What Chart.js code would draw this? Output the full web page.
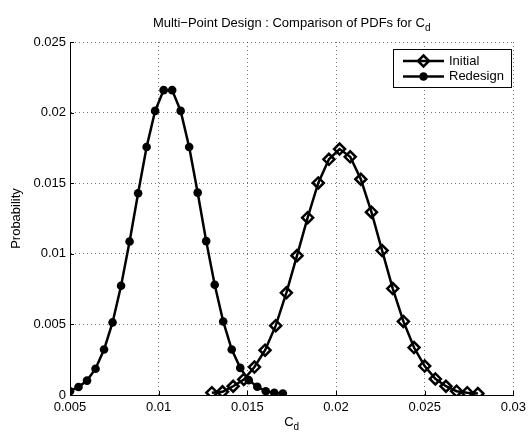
<!DOCTYPE html>
<html><head><meta charset="utf-8">
<script src="https://cdn.jsdelivr.net/npm/chart.js@4/dist/chart.umd.min.js"></script>
<style>html,body{margin:0;padding:0;background:#fff}#wrap{width:531px;height:435px;position:relative}</style>
</head><body><div id="wrap"><canvas id="c" width="531" height="435"></canvas></div>
<script>
const titleText = "Multi\u2212Point Design : Comparison of PDFs for C";
const titleSub = "d";
const xLabelMain = "C";
const xLabelSub = "d";
const yLabel = "Probability";
const seriesNames = ["Initial", "Redesign"];
const xTicks = [0.005, 0.01, 0.015, 0.02, 0.025, 0.03];
const xTickLabels = ["0.005", "0.01", "0.015", "0.02", "0.025", "0.03"];
const yTicks = [0, 0.005, 0.01, 0.015, 0.02, 0.025];
const yTickLabels = ["0", "0.005", "0.01", "0.015", "0.02", "0.025"];

const initialX = [0.013, 0.0136, 0.0142, 0.0148, 0.0154, 0.016, 0.0166, 0.0172, 0.0178, 0.0184,
  0.019, 0.0196, 0.0202, 0.0208, 0.0214, 0.022, 0.0226, 0.0232, 0.0238, 0.0244,
  0.025, 0.0256, 0.0262, 0.0268, 0.0274, 0.028];
const initialY = [0.00016, 0.00023, 0.00062, 0.0011, 0.00198, 0.00317, 0.00491, 0.00724, 0.00987, 0.01256,
  0.01502, 0.01669, 0.01742, 0.01687, 0.01528, 0.01295, 0.01023, 0.00754, 0.00521, 0.00336,
  0.00205, 0.00114, 0.00062, 0.00027, 0.00016, 0.0001];

const redesignX = [0.005, 0.00548, 0.00596, 0.00644, 0.00692, 0.0074, 0.00788, 0.00836, 0.00884, 0.00932,
  0.0098, 0.01028, 0.01076, 0.01124, 0.01172, 0.0122, 0.01268, 0.01316, 0.01364, 0.01412,
  0.0146, 0.01508, 0.01556, 0.01604, 0.01652, 0.017];
const redesignY = [0.00027, 0.00057, 0.00102, 0.00186, 0.00322, 0.00514, 0.00774, 0.01087, 0.01429, 0.01756,
  0.02012, 0.02159, 0.02159, 0.02012, 0.01756, 0.01433, 0.0109, 0.00781, 0.00521, 0.00322,
  0.00192, 0.00105, 0.00058, 0.00027, 0.00016, 0.0001];

const FONT = '"Liberation Sans", Arial, Helvetica, sans-serif';
const FS = 13;

function drawSub(ctx, main, sub, cx, base, size) {
  ctx.font = size + 'px ' + FONT;
  const w1 = ctx.measureText(main).width;
  const ss = Math.round(size * 0.78);
  ctx.font = ss + 'px ' + FONT;
  const w2 = ctx.measureText(sub).width;
  const x0 = cx - (w1 + w2) / 2;
  ctx.textAlign = 'left';
  ctx.textBaseline = 'alphabetic';
  ctx.font = size + 'px ' + FONT;
  ctx.fillText(main, x0, base);
  ctx.font = ss + 'px ' + FONT;
  ctx.fillText(sub, x0 + w1, base + size * 0.32);
}

const overlay = {
  id: 'overlay',
  afterDraw(chart) {
    const ctx = chart.ctx, a = chart.chartArea;
    const xs = chart.scales.x, ys = chart.scales.y;
    ctx.save();
    ctx.fillStyle = '#000';
    ctx.strokeStyle = '#000';
    ctx.lineWidth = 1;
    xTicks.forEach(v => {
      const px = Math.round(xs.getPixelForValue(v)) + 0.5;
      ctx.beginPath(); ctx.moveTo(px, a.bottom); ctx.lineTo(px, a.bottom - 4); ctx.stroke();
    });
    yTicks.forEach(v => {
      const py = Math.round(ys.getPixelForValue(v)) + 0.5;
      ctx.beginPath(); ctx.moveTo(a.left, py); ctx.lineTo(a.left + 4, py); ctx.stroke();
    });
    const cx = (a.left + a.right) / 2;
    drawSub(ctx, titleText, titleSub, cx, 27, FS);
    drawSub(ctx, xLabelMain, xLabelSub, cx, 426, FS);
    ctx.save();
    ctx.translate(16, (a.top + a.bottom) / 2);
    ctx.rotate(-Math.PI / 2);
    ctx.font = FS + 'px ' + FONT;
    ctx.textAlign = 'center';
    ctx.textBaseline = 'middle';
    ctx.fillText(yLabel, 0, 0);
    ctx.restore();
    const bx = 393.5, by = 49.5, bw = 118, bh = 38;
    ctx.fillStyle = '#fff';
    ctx.fillRect(bx, by, bw, bh);
    ctx.strokeStyle = '#000';
    ctx.lineWidth = 1;
    ctx.strokeRect(bx, by, bw, bh);
    const rows = [61, 76.5];
    rows.forEach((ry, i) => {
      ctx.strokeStyle = '#000';
      ctx.lineWidth = 2.5;
      ctx.beginPath(); ctx.moveTo(403, ry); ctx.lineTo(444, ry); ctx.stroke();
      const mx = 423.5;
      if (i === 0) {
        const r = 5.5;
        ctx.lineWidth = 2.5;
        ctx.beginPath();
        ctx.moveTo(mx, ry - r); ctx.lineTo(mx + r, ry); ctx.lineTo(mx, ry + r); ctx.lineTo(mx - r, ry); ctx.closePath();
        ctx.stroke();
      } else {
        ctx.fillStyle = '#000';
        ctx.beginPath(); ctx.arc(mx, ry, 4.3, 0, Math.PI * 2); ctx.fill();
      }
      ctx.fillStyle = '#000';
      ctx.font = FS + 'px ' + FONT;
      ctx.textAlign = 'left';
      ctx.textBaseline = 'middle';
      ctx.fillText(seriesNames[i], 449, ry);
    });
    ctx.restore();
  }
};

const gridCfg = { color: 'rgba(0,0,0,0.55)', lineWidth: 1, drawTicks: false };
const borderCfg = { display: true, color: '#000', width: 1, dash: [1, 3] };

new Chart(document.getElementById('c'), {
  type: 'line',
  data: {
    datasets: [
      {
        label: seriesNames[0],
        data: initialX.map((x, i) => ({ x: x, y: initialY[i] })),
        borderColor: '#000', borderWidth: 2.5,
        pointStyle: 'rectRot', pointRadius: 5.5, pointBorderWidth: 2.5,
        pointBorderColor: '#000', pointBackgroundColor: 'rgba(255,255,255,0)',
        tension: 0, fill: false
      },
      {
        label: seriesNames[1],
        data: redesignX.map((x, i) => ({ x: x, y: redesignY[i] })),
        borderColor: '#000', borderWidth: 2.5,
        pointStyle: 'circle', pointRadius: 4.3, pointBorderWidth: 0,
        pointBorderColor: '#000', pointBackgroundColor: '#000',
        tension: 0, fill: false
      }
    ]
  },
  options: {
    responsive: false,
    devicePixelRatio: 1,
    animation: false,
    events: [],
    layout: { padding: { top: 42, right: 13, left: 0, bottom: 0 } },
    plugins: { legend: { display: false }, title: { display: false }, tooltip: { enabled: false } },
    scales: {
      x: {
        type: 'linear', min: 0.005, max: 0.03,
        afterBuildTicks: s => { s.ticks = xTicks.map(v => ({ value: v })); },
        afterFit: s => { s.height = 40; },
        ticks: { callback: (v, i) => xTickLabels[i], color: '#000', font: { family: FONT, size: FS }, padding: 5, maxRotation: 0 },
        grid: gridCfg, border: borderCfg
      },
      y: {
        type: 'linear', min: 0, max: 0.025,
        afterBuildTicks: s => { s.ticks = yTicks.map(v => ({ value: v })); },
        afterFit: s => { s.width = 70; },
        ticks: { callback: (v, i) => yTickLabels[i], color: '#000', font: { family: FONT, size: FS }, padding: 4 },
        grid: gridCfg, border: borderCfg
      }
    }
  },
  plugins: [overlay]
});
</script>
</body></html>
